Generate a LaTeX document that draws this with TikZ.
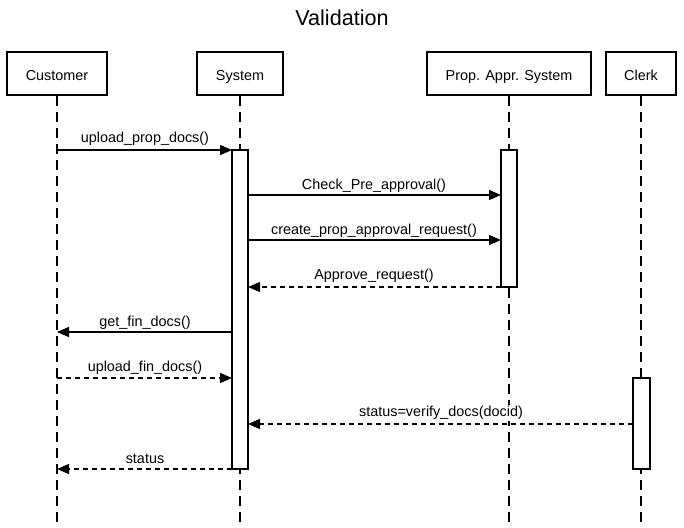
\documentclass[tikz,border=0pt]{standalone}
\usepackage{fontspec}
\setmainfont{Liberation Sans}
\usetikzlibrary{arrows.meta}
\tikzset{
  actor/.style={draw,line width=2pt,minimum height=43pt,inner sep=0pt,text height=14pt,text depth=0pt,font=\fontsize{14.4}{17}\selectfont},
  lifeline/.style={line width=1.2pt,dash pattern=on 10pt off 6pt},
  activation/.style={draw,line width=1.2pt,fill=white},
  msg/.style={line width=1.2pt,-{Triangle[length=12pt,width=10pt]}},
  reply/.style={msg,dash pattern=on 5pt off 4pt},
  lbl/.style={font=\fontsize{14.4}{17}\selectfont,inner sep=1pt,fill=white}
}
\begin{document}
\begin{tikzpicture}[x=1pt,y=-1pt]
\useasboundingbox (0,0) rectangle (684,527);
\node[font=\fontsize{21.6}{25}\selectfont] (title) at (342,18) {Validation};
% actors
\node[actor,minimum width=100pt] (cust) at (57,73.5) {Customer};
\node[actor,minimum width=86pt] (sys) at (240,73.5) {System};
\node[actor,minimum width=164pt] (pas) at (509,73.5) {Prop. Appr. System};
\node[actor,minimum width=70pt] (clerk) at (641,73.5) {Clerk};
% lifelines
\coordinate (custend) at (57,522);
\coordinate (sysend) at (240,522);
\coordinate (pasend) at (509,522);
\coordinate (clerkend) at (641,522);
\draw[lifeline] (cust.south) -- (custend);
\draw[lifeline] (sys.south) -- (sysend);
\draw[lifeline] (pas.south) -- (pasend);
\draw[lifeline] (clerk.south) -- (clerkend);
% activations
\draw[activation] (232,150) rectangle (248,469);
\draw[activation] (501,150) rectangle (517,287);
\draw[activation] (633,378) rectangle (650,469);
% labels
\node[lbl] (l1) at (145,139) {upload\_prop\_docs()};
\node[lbl] (l2) at (374,186) {Check\_Pre\_approval()};
\node[lbl] (l3) at (374,231) {create\_prop\_approval\_request()};
\node[lbl] (l4) at (374,276) {Approve\_request()};
\node[lbl] (l5) at (145,323) {get\_fin\_docs()};
\node[lbl] (l6) at (145,368) {upload\_fin\_docs()};
\node[lbl] (l7) at (441,413) {status=verify\_docs(docid)};
\node[lbl] (l8) at (145,459) {status};
% messages
\coordinate (c1) at (57,150);   \coordinate (s1) at (232,150);
\coordinate (s2) at (248,195);  \coordinate (p2) at (501,195);
\coordinate (s3) at (248,240);  \coordinate (p3) at (501,240);
\coordinate (s4) at (248,287);  \coordinate (p4) at (501,287);
\coordinate (c5) at (57,332);   \coordinate (s5) at (232,332);
\coordinate (c6) at (57,378);   \coordinate (s6) at (232,378);
\coordinate (s7) at (248,424);  \coordinate (k7) at (633,424);
\coordinate (c8) at (57,469);   \coordinate (s8) at (232,469);
\draw[msg] (c1) -- (s1);
\draw[msg] (s2) -- (p2);
\draw[msg] (s3) -- (p3);
\draw[reply] (p4) -- (s4);
\draw[msg] (s5) -- (c5);
\draw[reply] (c6) -- (s6);
\draw[reply] (k7) -- (s7);
\draw[reply] (s8) -- (c8);
\end{tikzpicture}
\end{document}
